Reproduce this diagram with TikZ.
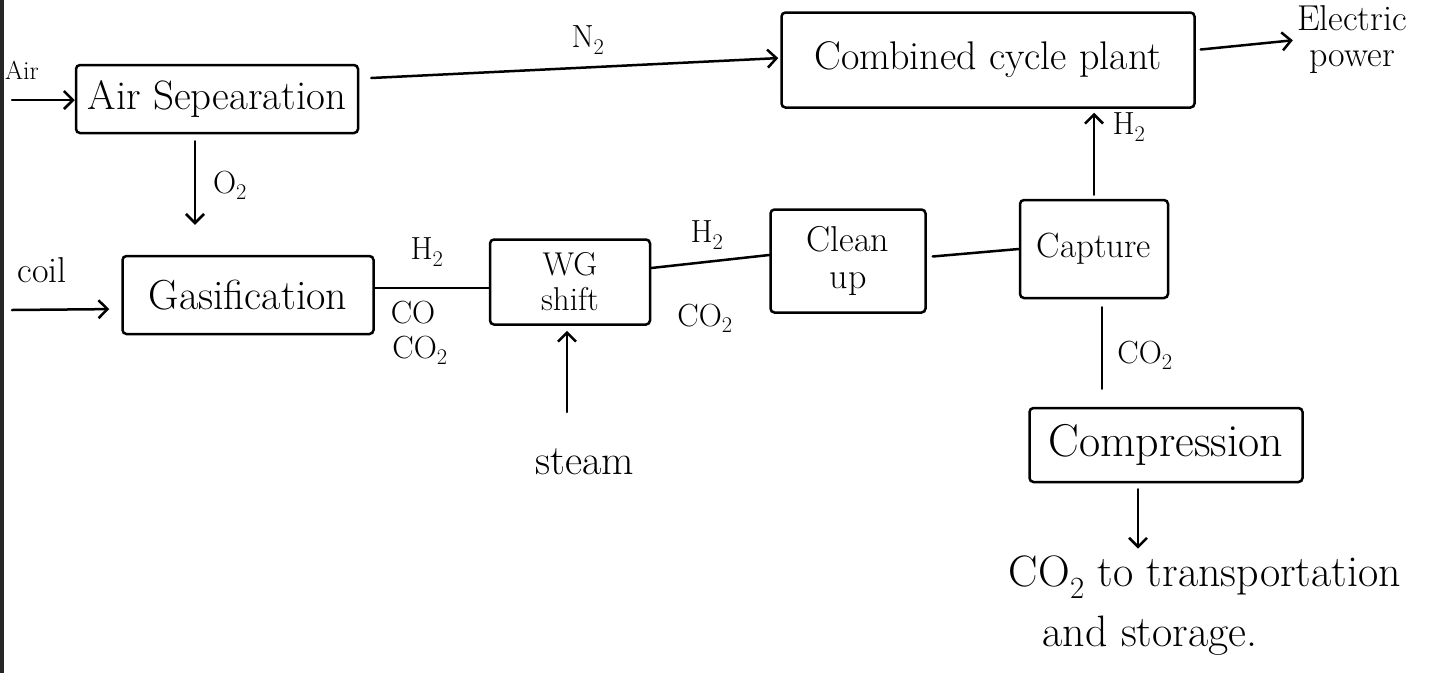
\documentclass[tikz,border=0pt]{standalone}
\usetikzlibrary{arrows.meta}
\newcommand{\fs}[2]{\fontsize{#1}{#2}\selectfont}
\begin{document}
\begin{tikzpicture}[x=1pt,y=-1pt,
  box/.style={draw, line width=2.5pt, rounded corners=4pt, inner sep=0pt, align=center, font=\fs{40}{40}},
  lbl/.style={inner sep=1pt, font=\fs{32}{32}},
  txt/.style={inner sep=1pt, align=center, font=\fs{44}{40}},
  ln/.style={line width=2.5pt, line cap=round},
  arr/.style={ln, -{Straight Barb[length=9pt,width=18pt]}}
]
\useasboundingbox (0,0) rectangle (1433,673);
\draw[line width=4pt, black!85] (2,0) -- (2,673);

% boxes
\node[box, minimum width=282pt, minimum height=68pt, font=\fs{41}{40}] (airsep) at (217,99) {Air Sepearation};
\node[box, minimum width=251pt, minimum height=78pt, font=\fs{42}{40}] (gasif) at (248,295) {Gasification};
\node[box, minimum width=160pt, minimum height=85pt, font=\fs{33}{35}] (wg) at (570,282) {WG\\shift};
\node[box, minimum width=155pt, minimum height=103pt, font=\fs{36}{37}] (clean) at (848,261) {Clean\\up};
\node[box, minimum width=148pt, minimum height=98pt, font=\fs{35}{40}] (capture) at (1094,249) {Capture};
\node[box, minimum width=413pt, minimum height=95pt, font=\fs{40}{40}] (ccp) at (988,60) {Combined cycle plant};
\node[box, minimum width=273pt, minimum height=74pt, font=\fs{46}{40}] (compr) at (1166,445) {Compression};

% labels
\node[lbl, font=\fs{26}{28}] (air) at (22,70) {Air};
\node[lbl, font=\fs{36}{36}] (coil) at (42,270) {coil};
\node[lbl] (n2) at (588,40) {N\textsubscript{2}};
\node[lbl] (o2) at (230,185) {O\textsubscript{2}};
\node[lbl] (h2a) at (427,252) {H\textsubscript{2}};
\node[lbl] (coa) at (413,313) {CO};
\node[lbl] (co2a) at (420,350) {CO\textsubscript{2}};
\node[lbl] (h2b) at (707,235) {H\textsubscript{2}};
\node[lbl] (co2b) at (705,318) {CO\textsubscript{2}};
\node[lbl] (h2c) at (1129,127) {H\textsubscript{2}};
\node[lbl] (co2c) at (1145,355) {CO\textsubscript{2}};
\node[txt, font=\fs{42}{40}] (steam) at (585,462) {steam};
\node[txt, font=\fs{36}{36}] (elec) at (1352,40) {Electric\\power};
\node[txt] (trans) at (1205,577) {CO\textsubscript{2} to transportation};
\node[txt] (stor) at (1150,636) {and storage.};

% free ends
\coordinate (airin) at (12,100);
\coordinate (coilin) at (12,310);
\coordinate (steamin) at (567,412);

% connectors
\draw[arr] (airin) -- (airin -| airsep.west);
\draw[arr, shorten >=12pt] (coilin) -- ([yshift=-14pt]gasif.west);
\draw[arr, shorten >=2pt] ([yshift=21pt,xshift=12pt]airsep.east) -- ([yshift=2pt]ccp.west);
\draw[arr, shorten <=5pt, shorten >=3pt] ([yshift=10pt]ccp.east) -- (elec.west);
\draw[arr, shorten <=7pt, shorten >=30pt] ([xshift=-22pt]airsep.south) -- ([xshift=-53pt]gasif.north);
\draw[ln] ([yshift=7pt]gasif.east) -- ([yshift=-6pt]wg.west);
\draw[ln] ([yshift=14pt]wg.east) -- ([yshift=6pt]clean.west);
\draw[arr, shorten >=5pt] (steamin) -- (steamin |- wg.south);
\draw[ln, shorten <=6pt] ([yshift=4pt]clean.east) -- (capture.west);
\draw[arr, shorten <=4pt, shorten >=4pt] (capture.north) -- (capture.north |- ccp.south);
\draw[ln, shorten <=8pt, shorten >=18pt] ([xshift=8pt]capture.south) -- ([xshift=8pt]capture.south |- compr.north);
\draw[arr, shorten <=6pt, shorten >=6pt] ([xshift=-28pt]compr.south) -- ([xshift=-28pt]compr.south |- trans.north);
\end{tikzpicture}
\end{document}
